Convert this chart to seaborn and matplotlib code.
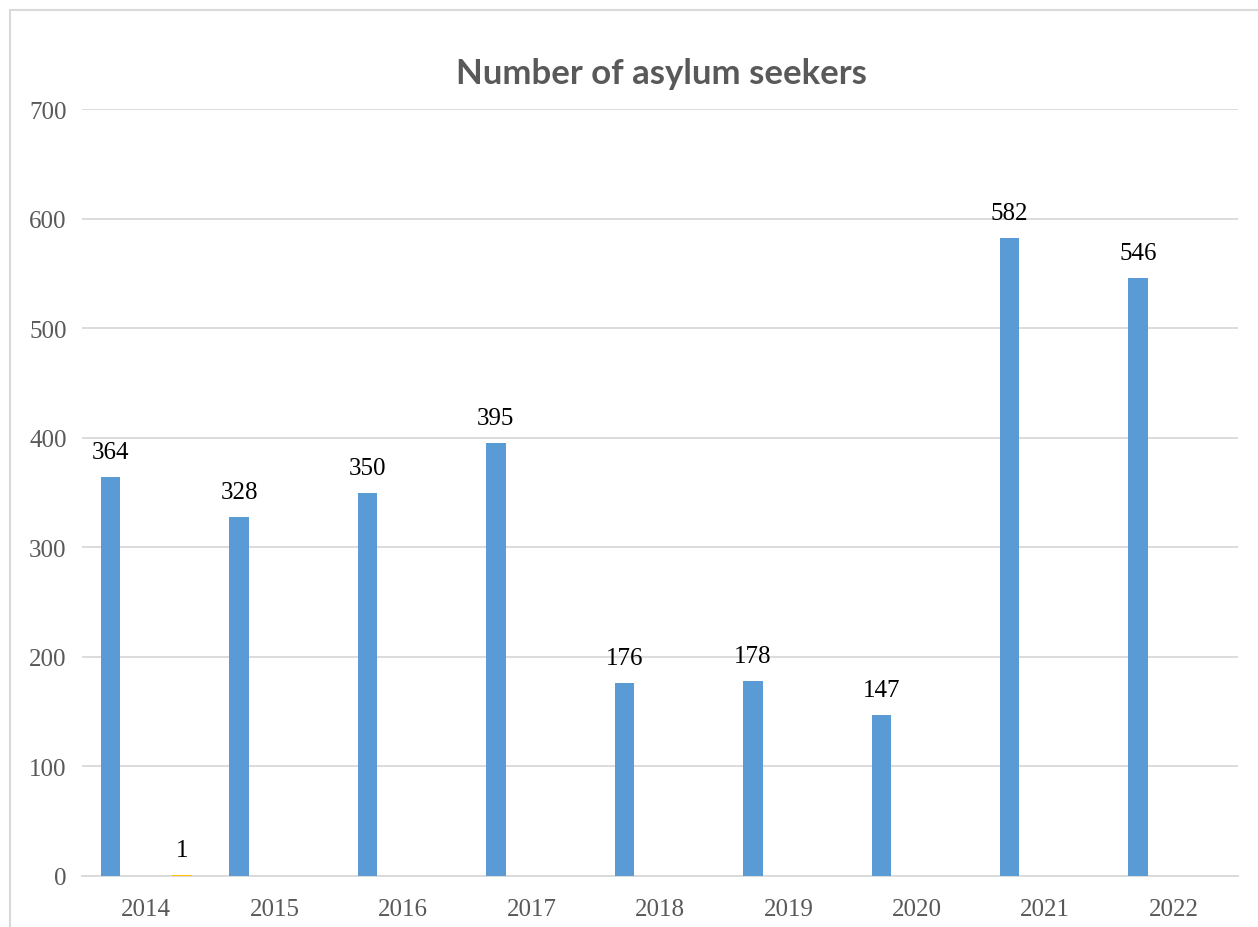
import pandas as pd
import matplotlib.pyplot as plt
import seaborn as sns
from matplotlib.patches import Rectangle


years = ['2014', '2015', '2016', '2017', '2018', '2019', '2020', '2021', '2022']
series_names = ['Series 1', 'Series 2', 'Series 3', 'Series 4']
series_1 = [364, 328, 350, 395, 176, 178, 147, 582, 546]
series_2 = [0, 0, 0, 0, 0, 0, 0, 0, 0]
series_3 = [0, 0, 0, 0, 0, 0, 0, 0, 0]
series_4 = [1, 0, 0, 0, 0, 0, 0, 0, 0]
series_colors = ['#5B9BD5', '#ED7D31', '#A5A5A5', '#FFC000']

rows = []
for name, vals in zip(series_names, [series_1, series_2, series_3, series_4]):
    for y, v in zip(years, vals):
        rows.append({'year': y, 'series': name, 'value': v})
df = pd.DataFrame(rows)

sns.set_theme(style='white')

fig = plt.figure(figsize=(12.58, 9.28), dpi=100)
ax = fig.add_axes([82 / 1258, 1 - 877 / 928, (1238 - 82) / 1258, (877 - 110) / 928])

sns.barplot(data=df, x='year', y='value', hue='series', hue_order=series_names,
            order=years, palette=series_colors, width=0.74, gap=0.18,
            legend=False, ax=ax, errorbar=None, saturation=1, zorder=3,
            linewidth=0)

for cont in ax.containers:
    labels = [f'{b.get_height():.0f}' if b.get_height() > 0 else '' for b in cont]
    ax.bar_label(cont, labels=labels, padding=10, fontsize=18,
                 family='Liberation Serif', color='black')

ax.set_ylim(0, 700)
ax.set_yticks(range(0, 701, 100))
ax.set_xlim(-0.5, len(years) - 0.5)
ax.yaxis.grid(True, color='#D9D9D9', linewidth=1.3)
ax.set_axisbelow(True)
for side in ['left', 'right', 'top']:
    ax.spines[side].set_visible(False)
ax.spines['bottom'].set_color('#D9D9D9')
ax.spines['bottom'].set_linewidth(1.3)
ax.spines['bottom'].set_zorder(1)
ax.tick_params(axis='both', length=0, labelsize=18, labelcolor='#595959')
ax.tick_params(axis='y', pad=11)
ax.tick_params(axis='x', pad=16)
for lab in ax.get_xticklabels() + ax.get_yticklabels():
    lab.set_family('Liberation Serif')
ax.set_xlabel('')
ax.set_ylabel('')

fig.text(661 / 1258, 1 - 74 / 928, 'Number of asylum seekers', ha='center', va='center',
         fontsize=25, fontweight='bold', color='#595959',
         family=['Lato', 'DejaVu Sans'])

fig.patches.append(Rectangle((10 / 1258, -0.1), 1.2, 1 - 11 / 928 + 0.1,
                             transform=fig.transFigure, fill=False,
                             edgecolor='#D9D9D9', linewidth=1.5))

fig.savefig('out.png', dpi=100)
